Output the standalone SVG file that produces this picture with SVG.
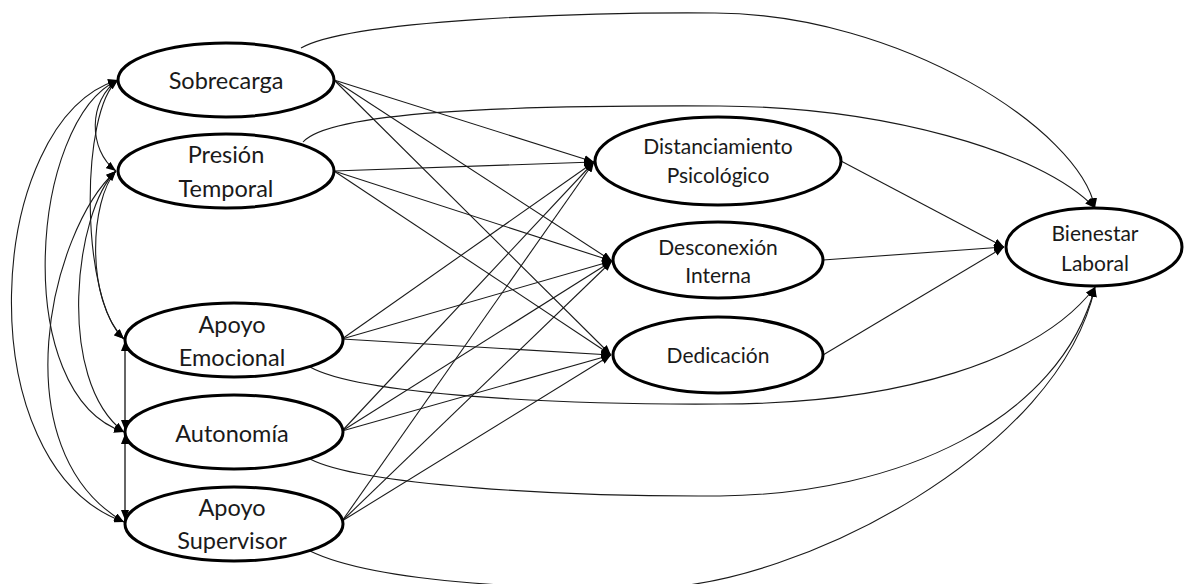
<svg xmlns="http://www.w3.org/2000/svg" width="1184" height="584" viewBox="0 0 1184 584">
<style>
.node ellipse{fill:#fff;stroke:#000;stroke-width:3}
.node text{font-family:Lato,"Liberation Sans",sans-serif;fill:#1a1a1a;text-anchor:middle}
.big{font-size:23.5px}
.small{font-size:21px}
#connectors path,#connectors line{fill:none;stroke:#1a1a1a;stroke-width:1.1}
#connectors .arr{marker-end:url(#ah)}
#connectors .cov{marker-start:url(#ah);marker-end:url(#ah)}
#connectors .vert{stroke:#666;stroke-width:2}
</style>
<defs>
<marker id="ah" markerUnits="userSpaceOnUse" markerWidth="10" markerHeight="8" refX="10" refY="4" orient="auto-start-reverse">
<path d="M0,0 L10,4 L0,8 z" fill="#000"/>
</marker>
</defs>
<rect width="1184" height="584" fill="#fff"/>
<g id="connectors">
<!-- covariances -->
<path class="cov" d="M118,80 C88,100 88,150 116,171"/>
<path class="cov" d="M118,80 C80,110 80,300 124,339"/>
<path class="cov" d="M118,80 C30,120 10,395 124,432"/>
<path class="cov" d="M118,80 C-15,120 -35,465 124,522"/>
<path class="cov" d="M116,171 C90,200 85,300 124,339"/>
<path class="cov" d="M116,171 C75,210 55,380 124,432"/>
<path class="cov" d="M116,171 C50,230 0,450 124,522"/>
<line class="cov vert" x1="125" y1="341" x2="125" y2="430"/>
<line class="cov vert" x1="125" y1="434" x2="125" y2="520"/>
<!-- predictors to mediators -->
<line class="arr" x1="334" y1="80" x2="594" y2="162"/>
<line class="arr" x1="334" y1="80" x2="612" y2="261"/>
<line class="arr" x1="334" y1="80" x2="611" y2="355"/>
<line class="arr" x1="334" y1="171" x2="594" y2="162"/>
<line class="arr" x1="334" y1="171" x2="612" y2="261"/>
<line class="arr" x1="334" y1="171" x2="611" y2="355"/>
<line class="arr" x1="342" y1="339" x2="594" y2="162"/>
<line class="arr" x1="342" y1="339" x2="612" y2="261"/>
<line class="arr" x1="342" y1="339" x2="611" y2="355"/>
<line class="arr" x1="342" y1="431" x2="594" y2="162"/>
<line class="arr" x1="342" y1="431" x2="612" y2="261"/>
<line class="arr" x1="342" y1="431" x2="611" y2="355"/>
<line class="arr" x1="342" y1="521" x2="594" y2="162"/>
<line class="arr" x1="342" y1="521" x2="612" y2="261"/>
<line class="arr" x1="342" y1="521" x2="611" y2="355"/>
<!-- mediators to outcome -->
<line class="arr" x1="841" y1="161" x2="1004" y2="247"/>
<line class="arr" x1="823" y1="260" x2="1004" y2="247"/>
<line class="arr" x1="823" y1="355" x2="1004" y2="247"/>
<!-- direct effects -->
<path class="arr" d="M301,48 C350,20 580,12 715,13 C900,14 1080,130 1095,208"/>
<path class="arr" d="M303,142 C330,112 500,105 720,106 C880,107 1040,150 1095,208"/>
<path class="arr" d="M310,367 C360,395 560,405 720,404 C900,404 1040,360 1095,287"/>
<path class="arr" d="M310,459 C360,485 560,497 720,496 C900,494 1060,420 1095,287"/>
<path class="arr" d="M310,551 C380,585 560,590 650,588 C800,586 1060,450 1095,287"/>
</g>
<g id="sobrecarga" class="node"><ellipse cx="226" cy="80" rx="108" ry="37"/><text class="big" x="226" y="89">Sobrecarga</text></g>
<g id="presion" class="node"><ellipse cx="226" cy="171" rx="108" ry="37"/><text class="big" x="226" y="163">Presión</text><text class="big" x="226" y="197">Temporal</text></g>
<g id="apoyo-emocional" class="node"><ellipse cx="234" cy="340" rx="109" ry="37"/><text class="big" x="232" y="333">Apoyo</text><text class="big" x="232" y="366">Emocional</text></g>
<g id="autonomia" class="node"><ellipse cx="234" cy="432" rx="109" ry="37"/><text class="big" x="232" y="442">Autonomía</text></g>
<g id="apoyo-supervisor" class="node"><ellipse cx="234" cy="524" rx="109" ry="37"/><text class="big" x="232" y="516">Apoyo</text><text class="big" x="232" y="549">Supervisor</text></g>
<g id="distanciamiento" class="node"><ellipse cx="718" cy="161" rx="123" ry="44"/><text class="small" x="718" y="154">Distanciamiento</text><text class="small" x="718" y="183">Psicológico</text></g>
<g id="desconexion" class="node"><ellipse cx="718" cy="260" rx="105" ry="38"/><text class="small" x="718" y="255">Desconexión</text><text class="small" x="718" y="283">Interna</text></g>
<g id="dedicacion" class="node"><ellipse cx="718" cy="355" rx="105" ry="38"/><text class="small" x="718" y="363">Dedicación</text></g>
<g id="bienestar" class="node"><ellipse cx="1094" cy="247" rx="88" ry="39"/><text class="small" x="1095" y="241">Bienestar</text><text class="small" x="1095" y="271">Laboral</text></g>
</svg>
